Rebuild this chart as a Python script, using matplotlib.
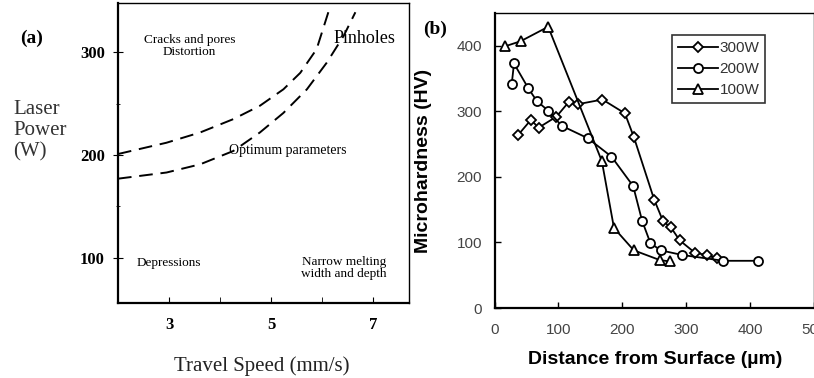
import matplotlib
matplotlib.use("Agg")
from matplotlib import pyplot as plt

# fonts: Times-like serif for the process map, Helvetica-like sans for the hardness plot
serif_font = 'Liberation Serif'
sans_font = 'Liberation Sans'

# (a) process window boundaries: travel speed (mm/s) vs laser power (W)
upper_speed = [2.0, 2.95, 3.61, 4.26, 4.78, 5.24, 5.57, 5.89, 6.12]
upper_power = [201, 212, 222, 235, 248, 264, 280, 303, 339]
lower_speed = [2.0, 2.95, 3.61, 4.26, 4.78, 5.24, 5.70, 6.09, 6.42, 6.65]
lower_power = [177, 183, 191, 204, 222, 241, 264, 290, 316, 339]

# (b) microhardness profiles, distance from surface (um) vs hardness (HV)
dist_300w = [37, 57, 69, 97, 116, 131, 169, 204, 218, 250, 264, 276, 290, 314, 332, 348]
hv_300w = [264, 287, 275, 292, 314, 311, 318, 297, 261, 165, 132, 123, 103, 84, 81, 76]
dist_200w = [27, 30.5, 53, 66, 84, 105, 146, 183, 217, 231, 244, 260, 293, 358, 413]
hv_200w = [342, 373, 335, 316, 301, 278, 259, 231, 186, 133, 99, 88, 81, 72, 72]
dist_100w = [16, 41, 84, 168, 187, 218, 259, 275]
hv_100w = [399, 407, 429, 224, 122, 88, 73, 71]

series_labels = ['300W', '200W', '100W']
series_markers = ['D', 'o', '^']
series_sizes = [5, 6.5, 6.5]

fig = plt.figure(figsize=(8.14, 3.78), dpi=100)

# ---------- panel (a) ----------
ax_a = fig.add_axes([118 / 814, 1 - 303 / 378, 291 / 814, 300 / 378])
ax_a.plot(upper_speed, upper_power, color='black', linestyle=(0, (7, 4)), linewidth=1.4)
ax_a.plot(lower_speed, lower_power, color='black', linestyle=(0, (7, 4)), linewidth=1.4)
ax_a.set_xlim(2.0, 7.7)
ax_a.set_ylim(56, 348)
ax_a.set_xticks([3, 5, 7])
ax_a.set_xticks([4, 6], minor=True)
ax_a.set_yticks([100, 200, 300])
ax_a.set_yticks([150, 250], minor=True)
ax_a.tick_params(axis='x', which='both', direction='in', length=4, pad=10)
ax_a.tick_params(axis='y', which='major', direction='inout', length=7, pad=6)
ax_a.tick_params(axis='y', which='minor', direction='inout', length=3)
for lab in ax_a.get_xticklabels() + ax_a.get_yticklabels():
    lab.set_fontfamily(serif_font)
    lab.set_fontweight('bold')
    lab.set_fontsize(12)
for side in ['left', 'bottom']:
    ax_a.spines[side].set_linewidth(1.6)
for side in ['top', 'right']:
    ax_a.spines[side].set_linewidth(1.0)

# region labels of the process map
ax_a.text(3.40, 306.5, 'Cracks and pores\nDistortion', ha='center', va='center',
          family=serif_font, fontsize=9.5, linespacing=1.0)
ax_a.text(6.82, 313, 'Pinholes', ha='center', va='center', family=serif_font, fontsize=13)
ax_a.text(5.33, 204, 'Optimum parameters', ha='center', va='center',
          family=serif_font, fontsize=10)
ax_a.text(2.99, 95, 'Depressions', ha='center', va='center', family=serif_font, fontsize=9.5)
ax_a.text(6.43, 90, 'Narrow melting\nwidth and depth', ha='center', va='center',
          family=serif_font, fontsize=9.5, linespacing=1.05)

fig.text(32 / 814, 1 - 38 / 378, '(a)', ha='center', va='center',
         family=serif_font, fontweight='bold', fontsize=14)
fig.text(13 / 814, 1 - 131 / 378, 'Laser\nPower\n(W)', ha='left', va='center',
         family=serif_font, fontsize=15, color='#333333', linespacing=1.15)
fig.text(262 / 814, 1 - 366 / 378, 'Travel Speed (mm/s)', ha='center', va='center',
         family=serif_font, fontsize=15, color='#222222')

# ---------- panel (b) ----------
ax_b = fig.add_axes([494.5 / 814, 1 - 308 / 378, 319.5 / 814, 295 / 378])
profiles = [(dist_300w, hv_300w), (dist_200w, hv_200w), (dist_100w, hv_100w)]
for (xs, ys), lab, mk, ms in zip(profiles, series_labels, series_markers, series_sizes):
    ax_b.plot(xs, ys, color='black', linewidth=1.3, marker=mk, markersize=ms,
              markerfacecolor='white', markeredgecolor='black', markeredgewidth=1.3,
              label=lab)
ax_b.set_xlim(0, 500)
ax_b.set_ylim(0, 450)
ax_b.set_xticks([0, 100, 200, 300, 400, 500])
ax_b.set_yticks([0, 100, 200, 300, 400])
ax_b.tick_params(direction='in', length=4, width=1.0, labelsize=11, labelcolor='#444444')
ax_b.tick_params(axis='x', pad=11)
ax_b.tick_params(axis='y', pad=9)
for lab in ax_b.get_xticklabels() + ax_b.get_yticklabels():
    lab.set_fontfamily(sans_font)
for side in ['left', 'bottom']:
    ax_b.spines[side].set_linewidth(1.6)
for side in ['top', 'right']:
    ax_b.spines[side].set_linewidth(1.0)

ax_b.set_ylabel('Microhardness (HV)', family=sans_font, fontweight='bold', fontsize=14)
ax_b.yaxis.set_label_coords(-0.197, 0.5)
ax_b.set_xlabel('Distance from Surface (\u00b5m)', family=sans_font, fontweight='bold',
                fontsize=14)
ax_b.xaxis.set_label_coords(0.502, -0.145)

leg = ax_b.legend(loc='upper left', bbox_to_anchor=(0.556, 0.925), borderaxespad=0,
                  frameon=True, fancybox=False, edgecolor='black', handlelength=2.6,
                  handletextpad=0.1, borderpad=0.4, labelspacing=0.45,
                  prop={'family': sans_font, 'size': 11})
leg.get_frame().set_linewidth(1.2)
for t in leg.get_texts():
    t.set_color('#333333')

fig.text(435 / 814, 1 - 29 / 378, '(b)', ha='center', va='center',
         family=serif_font, fontweight='bold', fontsize=14)

plt.savefig('out.png', dpi=100)
plt.clf()
